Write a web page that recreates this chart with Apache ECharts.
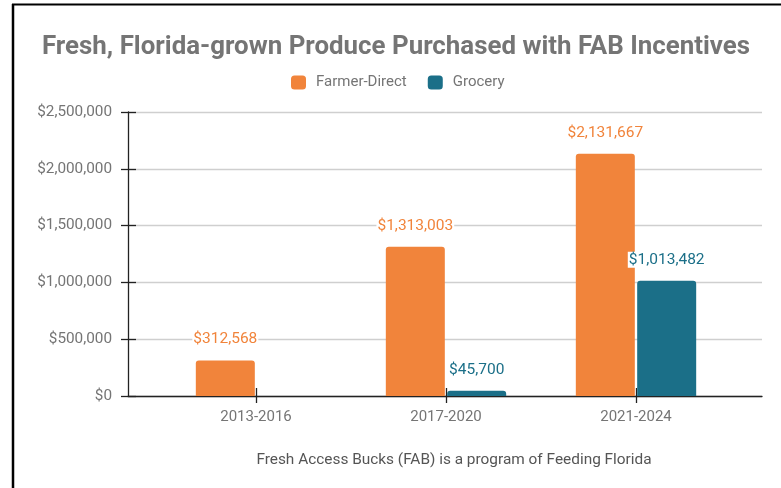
<!DOCTYPE html>
<html>
<head>
<meta charset="utf-8">
<script src="https://cdn.jsdelivr.net/npm/echarts@6/dist/echarts.min.js"></script>
<style>
html,body{margin:0;padding:0;background:#fff;}
#chart{width:781px;height:488px;}
</style>
</head>
<body>
<div id="chart"></div>
<script>
// ---- data ----
const categories = ['2013-2016', '2017-2020', '2021-2024'];
const farmerDirect = [312568, 1313003, 2131667];
const grocery = [null, 45700, 1013482];
const seriesNames = ['Farmer-Direct', 'Grocery'];
const titleText = 'Fresh, Florida-grown Produce Purchased with FAB Incentives';
const footerText = 'Fresh Access Bucks (FAB) is a program of Feeding Florida';

const ORANGE = '#f1843b';
const TEAL = '#1b6f88';
const GRAY = '#757575';

const catPos = categories.map((c, i) => i + 1);
const money = v => '$' + Math.round(v).toLocaleString('en-US');

// condensed title: measure with Roboto bold and squeeze to target width
const TITLE_FONT = 'bold 26px Roboto';
const TITLE_WIDTH = 708;
const mctx = document.createElement('canvas').getContext('2d');
mctx.font = TITLE_FONT;
const titleScale = TITLE_WIDTH / mctx.measureText(titleText).width;

const chart = echarts.init(document.getElementById('chart'), null, {renderer: 'canvas'});

function barSeries(name, values, color) {
  return {
    name: name,
    type: 'bar',
    xAxisIndex: 0,
    yAxisIndex: 0,
    barWidth: 59,
    barGap: '4%',
    itemStyle: {color: color, borderRadius: [3, 3, 0, 0]},
    label: {
      show: true,
      position: 'top',
      distance: 13,
      color: color,
      fontFamily: 'Roboto',
      fontSize: 15.5,
      backgroundColor: '#fff',
      padding: [0, 1],
      formatter: p => p.value[1] == null ? '' : money(p.value[1])
    },
    data: values.map((v, i) => [catPos[i], v])
  };
}

const option = {
  animation: false,
  backgroundColor: '#fff',
  legend: {
    data: seriesNames,
    left: 286,
    top: 70,
    itemWidth: 15,
    itemHeight: 14,
    itemGap: 21,
    icon: 'roundRect',
    textStyle: {fontFamily: 'Roboto', fontSize: 15, color: GRAY, padding: [0, 0, 0, 5]}
  },
  grid: {left: 128, right: 19, top: 112, bottom: 92, containLabel: false},
  xAxis: [{
    type: 'value',
    min: 1 - 128 / 190,
    max: 3 + 126 / 190,
    splitLine: {show: false},
    axisLine: {show: true, onZero: false, lineStyle: {color: '#222', width: 1.3}},
    axisTick: {show: true, customValues: catPos, length: 7, lineStyle: {color: '#222', width: 1.3}},
    axisLabel: {
      show: true, customValues: catPos, margin: 14,
      fontFamily: 'Roboto', fontSize: 15, color: GRAY,
      formatter: v => categories[Math.round(v) - 1] || ''
    }
  }, {
    type: 'value',
    position: 'bottom',
    min: 1 - 128 / 190,
    max: 3 + 126 / 190,
    splitLine: {show: false},
    axisLine: {show: false, onZero: false},
    axisTick: {show: true, inside: true, customValues: catPos, length: 8, lineStyle: {color: '#222', width: 1.3}},
    axisLabel: {show: false}
  }],
  yAxis: [{
    type: 'value',
    min: 0,
    max: 2500000,
    interval: 500000,
    axisLine: {show: true, lineStyle: {color: '#222', width: 1.3}},
    axisTick: {show: true, length: 7, lineStyle: {color: '#222', width: 1.3}},
    splitLine: {show: true, lineStyle: {color: '#cfcfcf', width: 1.3}},
    axisLabel: {margin: 16, fontFamily: 'Roboto', fontSize: 15.3, color: GRAY, formatter: v => money(v)}
  }, {
    type: 'value',
    position: 'left',
    min: 0,
    max: 2500000,
    interval: 500000,
    axisLine: {show: false},
    axisTick: {show: true, inside: true, length: 8, lineStyle: {color: '#222', width: 1.3}},
    splitLine: {show: false},
    axisLabel: {show: false}
  }],
  series: [
    barSeries(seriesNames[0], farmerDirect, ORANGE),
    barSeries(seriesNames[1], grocery, TEAL)
  ],
  graphic: [
    {type: 'line', shape: {x1: 12, y1: 4.5, x2: 781, y2: 4.5}, style: {stroke: '#000', lineWidth: 2}},
    {type: 'line', shape: {x1: 13, y1: 4, x2: 13, y2: 488}, style: {stroke: '#000', lineWidth: 2.5}},
    {type: 'text', x: 396, y: 47, scaleX: titleScale, style: {text: titleText, font: TITLE_FONT, fill: GRAY, textAlign: 'center', textVerticalAlign: 'middle'}},
    {type: 'text', x: 454, y: 460, style: {text: footerText, fontFamily: 'Roboto', fontSize: 15.4, fill: '#555', textAlign: 'center', textVerticalAlign: 'middle'}}
  ]
};
chart.setOption(option);
</script>
</body>
</html>
